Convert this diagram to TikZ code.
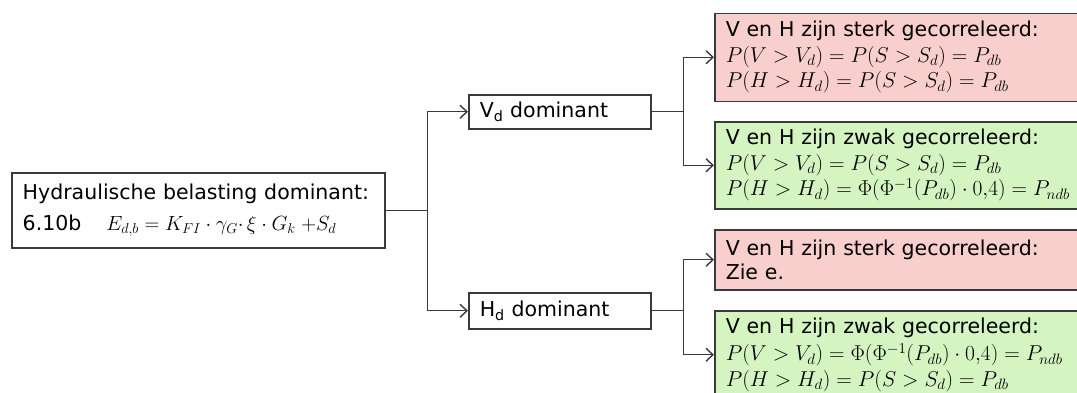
\documentclass[tikz,border=0pt]{standalone}
\usepackage{fix-cm}
\usepackage{amsmath,amssymb}
\usepackage{fontspec}
\setmainfont{DejaVu Sans}
\usepackage{xcolor}
\usetikzlibrary{arrows.meta,positioning,calc}
\definecolor{ln}{HTML}{3A3A3A}
\definecolor{redbg}{HTML}{F8CFCC}
\definecolor{grnbg}{HTML}{D4F5C1}
\newcommand\kans[1]{{\fontsize{21.5}{24.5}\selectfont$#1$}}
\tikzset{
  blk/.style    ={draw=ln, rectangle, align=left, anchor=north west, inner xsep=11pt,
                  inner ysep=0pt, line width=1.5pt, font=\fontsize{20.5}{24.5}\selectfont},
  blkred/.style ={blk, fill=redbg, text width=352pt},
  blkgrn/.style ={blk, fill=grnbg, text width=352pt},
  ar/.style     ={-{Straight Barb[length=7pt,width=13pt]}, draw=ln, line width=1.4pt},
  ln/.style     ={draw=ln, line width=1.4pt},
}

\begin{document}
\begin{tikzpicture}[x=1pt,y=1pt]
\path[use as bounding box, clip] (0,0) rectangle (1077,-392);
\node[blk, text width=351pt, minimum height=75pt] (hyd) at (11,-172)
  {Hydraulische belasting dominant:\\[7pt]
   6.10b\hspace{25pt}$E_{d,b}=K_{FI}\cdot\gamma_G{\cdot}\,\xi\cdot G_k\;{+}S_d$};
\node[blk, text width=160pt, minimum height=34pt] (vd) at (468,-94)
  {V\textsubscript{d} dominant};
\node[blk, text width=160pt, minimum height=36pt] (hd) at (468,-292)
  {H\textsubscript{d} dominant};
% V_d tak
\node[blkred, minimum height=88pt] (vsterk) at (714,-12.5)
  {V en H zijn sterk gecorreleerd:\\[1pt]
   \kans{P(V>V_d)=P(S>S_d)=P_{db}}\\[1pt]
   \kans{P(H>H_d)=P(S>S_d)=P_{db}}};
\node[blkgrn, minimum height=87pt] (vzwak) at (714,-121)
  {V en H zijn zwak gecorreleerd:\\[1pt]
   \kans{P(V>V_d)=P(S>S_d)=P_{db}}\\[1pt]
   \kans{P(H>H_d)=\Phi(\Phi^{-1}(P_{db})\cdot 0{,}4)=P_{ndb}}};
% H_d tak
\node[blkred, minimum height=60pt] (hsterk) at (714,-229)
  {V en H zijn sterk gecorreleerd:\\
   Zie e.};
\node[blkgrn, minimum height=88pt] (hzwak) at (714,-310)
  {V en H zijn zwak gecorreleerd:\\[3pt]
   \kans{P(V>V_d)=\Phi(\Phi^{-1}(P_{db})\cdot 0{,}4)=P_{ndb}}\\[1pt]
   \kans{P(H>H_d)=P(S>S_d)=P_{db}}};
\coordinate (s0) at ($(hyd.east)+(42,0)$);
\coordinate (s1) at ($(vd.east)+(32,0)$);
\coordinate (s2) at ($(hd.east)+(32,0)$);
\draw[ln] (hyd.east) -- (s0);
\draw[ar] (s0) |- (vd.west);
\draw[ar] (s0) |- (hd.west);
\draw[ln] (vd.east) -- (s1);
\draw[ar] (s1) |- (vsterk.west);
\draw[ar] (s1) |- (vzwak.west);
\draw[ln] (hd.east) -- (s2);
\draw[ar] (s2) |- (hsterk.west);
\draw[ar] (s2) |- (hzwak.west);
\end{tikzpicture}
\end{document}
